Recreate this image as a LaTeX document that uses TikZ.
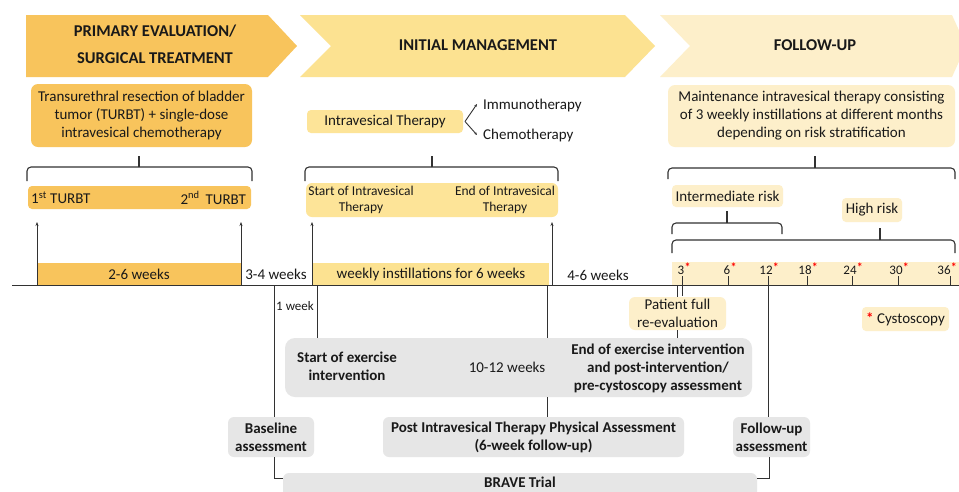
\documentclass[tikz,border=0pt]{standalone}
\usepackage{fontspec}
\setmainfont{Carlito}
\usetikzlibrary{arrows.meta}
\definecolor{orgD}{RGB}{248,196,92}
\definecolor{yelM}{RGB}{252,226,145}
\definecolor{yelB}{RGB}{253,228,152}
\definecolor{yelL}{RGB}{253,239,202}
\definecolor{grayB}{RGB}{230,230,230}
\definecolor{lineC}{RGB}{50,50,50}
\newcommand{\mybrace}[6]{\draw[brc] (#1,#5) -- (#1,#4) -- (#2,#4) -- (#2,#5); \draw[brc] (#3,#4) -- (#3,#6);}
\newcommand{\rast}{{\color{red}\bfseries *}}
\begin{document}
\begin{tikzpicture}[x=1pt,y=-1pt,
  txt/.style={font=\fontsize{15}{18}\selectfont, align=center, inner sep=0pt, text=black!90},
  btxt/.style={txt, font=\fontsize{15}{18}\selectfont\bfseries},
  head/.style={txt, font=\fontsize{16.5}{27}\selectfont\bfseries},
  rbox/.style={rounded corners=6pt, inner sep=0pt, align=center},
  brc/.style={draw=lineC, line width=1.1pt, rounded corners=4pt},
  conn/.style={draw=lineC, line width=0.9pt},
  uparr/.style={conn, -{Stealth[length=4pt,width=3pt]}}]
\useasboundingbox (0,0) rectangle (959,491);
\fill[white] (0,0) rectangle (959,491);

% banners
\fill[orgD] (26,15) -- (268,15) -- (297,46) -- (268,77) -- (26,77) -- cycle;
\fill[yelM] (300,15) -- (625,15) -- (655,46) -- (625,77) -- (300,77) -- (331,46) -- cycle;
\fill[yelL] (660,15) -- (952,15) -- (966,46) -- (952,77) -- (660,77) -- (690,46) -- cycle;
\node[head] (h1) at (155,44) {PRIMARY EVALUATION/\\SURGICAL TREATMENT};
\node[head] (h2) at (478,45) {INITIAL MANAGEMENT};
\node[head] (h3) at (815,45) {FOLLOW-UP};

% top boxes
\fill[orgD, rounded corners=7pt] (31,84) rectangle (252,147);
\node[txt] (turbt) at (141.5,115.5) {Transurethral resection of bladder\\tumor (TURBT) + single-dose\\intravesical chemotherapy};
\fill[yelB, rounded corners=4pt] (307,110) rectangle (463,133);
\node[txt] (ivt) at (385,121.5) {Intravesical Therapy};
\node[txt, anchor=west] (immu) at (483,105) {Immunotherapy};
\node[txt, anchor=west] (chemo) at (483,135) {Chemotherapy};
\coordinate (fork) at (465,121.5);
\draw[conn, -{Stealth[length=3pt,width=2.5pt]}] (fork) -- (477,104);
\draw[conn, -{Stealth[length=3pt,width=2.5pt]}] (fork) -- (477,135);
\fill[yelL, rounded corners=7pt] (668,85) rectangle (955,147);
\node[txt] (maint) at (811.5,116) {Maintenance intravesical therapy consisting\\of 3 weekly instillations at different months\\depending on risk stratification};

% braces
\mybrace{27}{252}{139}{167}{181}{156}
\mybrace{305}{558}{432}{167}{181}{156}
\mybrace{668}{955}{815}{168}{179}{156}
\mybrace{672}{782}{727}{223}{234}{211}
\mybrace{672}{955}{880}{240}{253}{228}

% second row bars
\fill[orgD, rounded corners=4pt] (28,186) rectangle (251,209);
\node[txt, anchor=west] (t1) at (31,198) {1\textsuperscript{st} TURBT};
\node[txt, anchor=east] (t2) at (246,198) {2\textsuperscript{nd}\, TURBT};
\fill[yelB, rounded corners=6pt] (306,183) rectangle (558,217);
\node[txt, font=\fontsize{13.5}{15.5}\selectfont] (sivt) at (361,200) {Start of Intravesical\\Therapy};
\node[txt, font=\fontsize{13.5}{15.5}\selectfont] (eivt) at (505,200) {End of Intravesical\\Therapy};
\fill[yelL, rounded corners=4pt] (672,185) rectangle (783,207);
\node[txt] (irisk) at (727.5,196) {Intermediate risk};
\fill[yelL, rounded corners=4pt] (842,198) rectangle (902,222);
\node[txt] (hrisk) at (872,210) {High risk};

% timeline bars
\fill[orgD] (37,263) rectangle (241,285);
\node[txt] (w26) at (139,274) {2-6 weeks};
\node[txt] (w34) at (276,274) {3-4 weeks};
\fill[yelM] (313,263) rectangle (549,285);
\node[txt] (w6) at (431,274) {weekly instillations for 6 weeks};
\node[txt] (w46) at (598,275) {4-6 weeks};
\fill[yelL] (672,262) rectangle (959,285);

% timeline
\coordinate (tlS) at (12,285);
\coordinate (tlE) at (959,285);
\draw[conn] (tlS) -- (tlE);

% up arrows
\coordinate (a1) at (37,285); \coordinate (a1e) at (37,222);
\coordinate (a2) at (241,285); \coordinate (a2e) at (241,222);
\coordinate (a3) at (312,285); \coordinate (a3e) at (312,222);
\coordinate (a4) at (552,285); \coordinate (a4e) at (552,222);
\draw[uparr] (a1) -- (a1e);
\draw[uparr] (a2) -- (a2e);
\draw[uparr] (a3) -- (a3e);
\draw[uparr] (a4) -- (a4e);
\draw[conn] (241,263) -- (241,285);

% month ticks
\foreach \m/\xx/\lx in {3/682/681,6/728/727,12/768/766,18/807/805,24/852/850,30/898/896,36/950/944}{
  \node[txt, font=\fontsize{13}{15}\selectfont] (m\m) at (\lx,270) {\m};
  \node[inner sep=0pt, anchor=west, font=\fontsize{12}{13}\selectfont] at ([yshift=3pt]m\m.east) {\rast};
  \draw[conn] (\xx,276) -- (\xx,285);
}
\draw[conn] (682,285) -- (682,296);

% lower boxes
\node[rbox, fill=yelL, minimum width=97pt, minimum height=33pt] (pfr) at (677.5,313.5) {};
\node[txt] at (pfr) {Patient full\\re-evaluation};
\node[rbox, fill=yelL, minimum width=87pt, minimum height=24pt, rounded corners=4pt] (cys) at (905.5,319) {};
\node[txt] at (cys) {\rast\ Cystoscopy};

\node[rbox, fill=grayB, minimum width=467pt, minimum height=59pt, rounded corners=10pt] (exer) at (518.5,367.5) {};
\node[btxt] (sex) at (347,366) {Start of exercise\\intervention};
\node[txt] (w1012) at (507,367) {10-12 weeks};
\node[btxt] (eex) at (658,368) {End of exercise intervention\\and post-intervention/\\pre-cystoscopy assessment};

\node[rbox, fill=grayB, minimum width=86pt, minimum height=40pt] (base) at (271,437) {};
\node[btxt] at (base) {Baseline\\assessment};
\node[rbox, fill=grayB, minimum width=301pt, minimum height=40pt] (post) at (533.5,437) {};
\node[btxt] at (post) {Post Intravesical Therapy Physical Assessment\\(6-week follow-up)};
\node[rbox, fill=grayB, minimum width=77pt, minimum height=40pt] (fup) at (771.5,437) {};
\node[btxt] at (fup) {Follow-up\\assessment};
\node[rbox, fill=grayB, minimum width=474pt, minimum height=36pt] (brave) at (520,491) {};
\node[btxt] at (520,482) {BRAVE Trial};

% vertical connectors
\draw[conn] (274,285) -- (274,417);
\node[txt, font=\fontsize{13}{15}\selectfont] (w1) at (295,306) {1 week};
\draw[conn] (317,285) -- (317,338);
\draw[conn] (547,285) -- (547,338);
\draw[conn] (547,397) -- (547,417);
\draw[conn] (677,285) -- (677,297);
\draw[conn] (677,330) -- (677,338);
\draw[conn] (768,285) -- (768,417);
\draw[conn] (274,457) -- (274,478) -- (283,478);
\draw[conn] (769,457) -- (769,478) -- (757,478);
\end{tikzpicture}
\end{document}
